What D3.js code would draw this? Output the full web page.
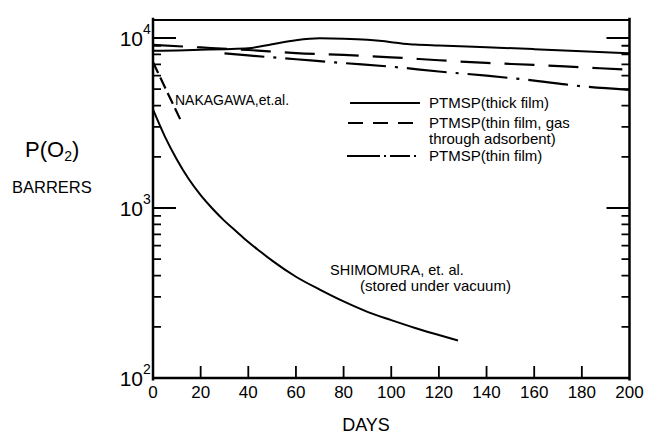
<!DOCTYPE html>
<html><head><meta charset="utf-8">
<script src="https://cdn.jsdelivr.net/npm/d3@7"></script>
<style>
html,body{margin:0;padding:0;background:#fff;color:#000;}
svg text{font-family:"Liberation Sans",Arial,sans-serif;fill:#000;}
</style></head>
<body><svg id="c" width="653" height="434" xmlns="http://www.w3.org/2000/svg"></svg>
<script>
// ---- data ----
const thickDays   = [0, 10, 20, 30, 40, 50, 60, 70, 80, 90, 95, 100, 105, 110, 120, 140, 160, 180, 200];
const thickVals   = [8400, 8450, 8520, 8600, 8700, 9200, 9700, 9950, 9900, 9750, 9620, 9450, 9250, 9150, 9030, 8820, 8600, 8370, 8130];
const adsDays     = [0, 20, 40, 60, 80, 100, 120, 140, 160, 180, 200];
const adsVals     = [9100, 8800, 8500, 8150, 7950, 7700, 7400, 7130, 6950, 6720, 6500];
const thinDays    = [30, 40, 60, 80, 100, 120, 140, 160, 180, 200];
const thinVals    = [8130, 7900, 7500, 7120, 6780, 6350, 6000, 5620, 5200, 4950];
const nakaDays    = [0, 6, 12];
const nakaVals    = [7200, 4800, 3200];
const shimoDays   = [0, 5, 10, 15, 20, 25, 30, 35, 40, 45, 50, 60, 70, 80, 90, 100, 110, 120, 128];
const shimoVals   = [3800, 2630, 1930, 1480, 1190, 990, 840, 728, 631, 555, 490, 394, 331, 282, 245, 219, 197, 179, 166];
const xTicks      = [0, 20, 40, 60, 80, 100, 120, 140, 160, 180, 200];
const xTickLabels = ["0", "20", "40", "60", "80", "100", "120", "140", "160", "180", "200"];
const yMajor      = [100, 1000, 10000];
const yMajorExp   = ["2", "3", "4"];
const yMinor      = [200, 300, 400, 500, 600, 700, 800, 900, 2000, 3000, 4000, 5000, 6000, 7000, 8000, 9000];
const legendLabels = [["PTMSP(thick film)"], ["PTMSP(thin film, gas", "through adsorbent)"], ["PTMSP(thin film)"]];

// ---- layout ----
const L = 153, R = 629.5, T = 20, B = 378;
const x = d3.scaleLinear().domain([0, 200]).range([L, R]);
const y = d3.scaleLog().domain([100, 12760]).range([B, T]);
const svg = d3.select("#c");

const line = d3.line().x(d => x(d[0])).y(d => y(d[1])).curve(d3.curveMonotoneX);
const zip = (a, b) => a.map((v, i) => [v, b[i]]);

function path(d, dash, w) {
  return svg.append("path").attr("d", d).attr("fill", "none")
    .attr("stroke", "#000").attr("stroke-width", w || 2)
    .attr("stroke-dasharray", dash || null).attr("stroke-linecap", "butt");
}
path(line(zip(thickDays, thickVals)), null, 2);
path(line(zip(adsDays, adsVals)), "30,14", 2.2);
path(line(zip(thinDays, thinVals)), "40,9,3,9", 2.2);
path(line(zip(nakaDays, nakaVals)), "12,5", 2.2);
path(line(zip(shimoDays, shimoVals)), null, 2);

// ---- frame (from scale ranges) ----
const [x0, x1] = x.range();
const [y0, y1] = y.range();
path(`M${x0},${y1 - 1}V${y0 + 1.2}M${x1},${y1 - 1}V${y0 + 1.2}M${x0},${y0}H${x1}`, null, 2.5).attr("stroke-linecap", "square");
path(`M${x0},${y1}H${x1}`, null, 2.2);

// ---- ticks (positions from scales) ----
let td = "";
yMajor.forEach(v => { const yy = y(v); td += `M${x0},${yy}h23M${x1},${yy}h-23`; });
yMinor.forEach(v => { const yy = y(v); td += `M${x0},${yy}h8M${x1},${yy}h-8`; });
xTicks.slice(1, -1).forEach(v => { const xx = x(v); td += `M${xx},${y0}v-12`; });
path(td, null, 1.8);

// x tick labels
svg.append("g").selectAll("text").data(xTicks).join("text")
  .attr("x", d => x(d)).attr("y", B + 20).attr("text-anchor", "middle")
  .attr("font-size", 17).text((d, i) => xTickLabels[i]);

// y tick labels
yMajor.forEach((v, i) => {
  svg.append("text").attr("x", 143).attr("y", y(v) + 8).attr("text-anchor", "end")
    .attr("font-size", 21).text("10");
  svg.append("text").attr("x", 143).attr("y", y(v) - 4).attr("font-size", 14).text(yMajorExp[i]);
});

// axis titles
svg.append("text").attr("x", 366).attr("y", 431).attr("text-anchor", "middle").attr("font-size", 18).text("DAYS");
const p = svg.append("text").attr("x", 25).attr("y", 157).attr("font-size", 22);
p.append("tspan").text("P(O");
p.append("tspan").attr("font-size", 14).attr("dy", 4).text("2");
p.append("tspan").attr("dy", -4).text(")");
svg.append("text").attr("x", 12).attr("y", 193).attr("font-size", 16.5).text("BARRERS");

// annotations
svg.append("text").attr("x", 175).attr("y", 105).attr("font-size", 14).text("NAKAGAWA,et.al.");
svg.append("text").attr("x", 330).attr("y", 275).attr("font-size", 14.5).text("SHIMOMURA, et. al.");
svg.append("text").attr("x", 360).attr("y", 291).attr("font-size", 15).text("(stored under vacuum)");

// legend
const lg = svg.append("g");
function lgLine(xa, xb, yy, dash) {
  lg.append("line").attr("x1", xa).attr("x2", xb).attr("y1", yy).attr("y2", yy)
    .attr("stroke", "#000").attr("stroke-width", 1.8).attr("stroke-dasharray", dash || null);
}
lgLine(350, 420, 103);
lgLine(348, 413, 123, "15,10");
lgLine(347, 420, 156, "33,4,2,4,20,4,2,4");
const legY = [[108], [128, 144], [161]];
legendLabels.forEach((lines, i) => lines.forEach((t, j) => {
  lg.append("text").attr("x", 429).attr("y", legY[i][j]).attr("font-size", 15).text(t);
}));
</script></body></html>
